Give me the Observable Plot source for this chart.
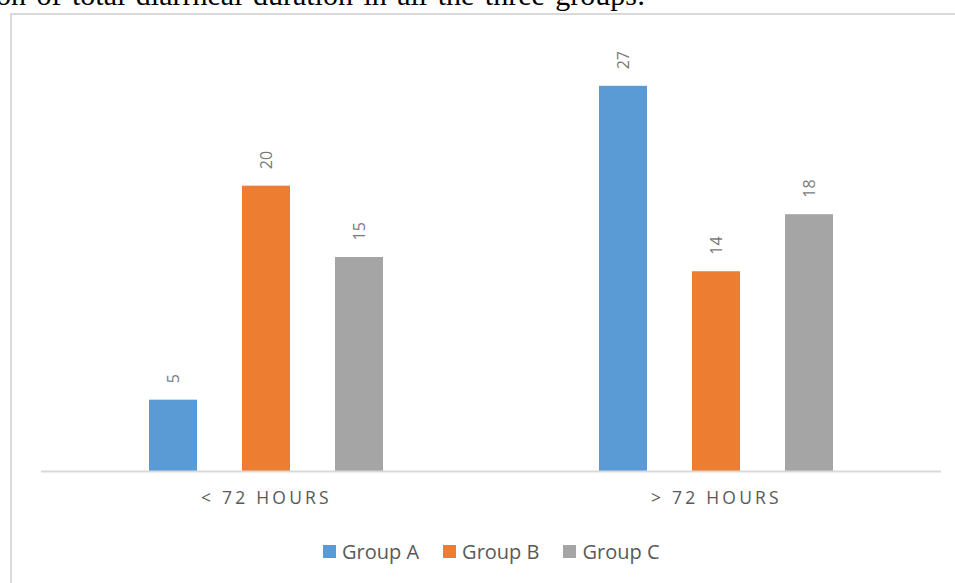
<!DOCTYPE html>
<html>
<head>
<meta charset="utf-8">
<script src="https://cdn.jsdelivr.net/npm/d3@7"></script>
<script src="https://cdn.jsdelivr.net/npm/@observablehq/plot@0.6"></script>
<style>
  html, body { margin: 0; padding: 0; background: #fff; width: 955px; height: 583px; overflow: hidden; position: relative; }
  #caption { position: absolute; left: -4px; top: -20px; line-height: 30px; font-family: "Liberation Serif", "Times New Roman", serif; font-size: 30px; word-spacing: 3px; color: #000; white-space: nowrap; }
  #frame { position: absolute; left: 10px; top: 13px; width: 980px; height: 620px; border: 2px solid #d9d9d9; box-sizing: border-box; }
  #chart { position: absolute; left: 0; top: 13px; }
  #chart svg g[aria-label="fx-axis tick label"] text { letter-spacing: 3.2px; }
  #legend { position: absolute; left: 323px; top: 538px; display: flex; gap: 24px; font-family: "Open Sans", Lato, sans-serif; font-size: 20px; color: #595959; }
  #legend .item { display: flex; align-items: center; gap: 6px; }
  #legend .sw { width: 13px; height: 13px; display: inline-block; }
</style>
</head>
<body>
<div id="caption">on of total diarrheal duration in all the three groups:</div>
<div id="frame"></div>
<div id="chart"></div>
<div id="legend"></div>
<script>
const categories = ["< 72 HOURS", "> 72 HOURS"];
const groups = ["Group A", "Group B", "Group C"];
const groupA = [5, 27];
const groupB = [20, 14];
const groupC = [15, 18];
const colors = ["#5b9bd5", "#ed7d31", "#a5a5a5"];

const series = [groupA, groupB, groupC];
const data = [];
categories.forEach((c, i) => {
  groups.forEach((g, j) => data.push({cat: c, group: g, value: series[j][i]}));
});

const chart = Plot.plot({
  width: 955,
  height: 512,
  marginLeft: 40,
  marginRight: 14,
  marginTop: 30,
  marginBottom: 54,
  style: {background: "transparent", fontFamily: "'Open Sans', Lato, sans-serif"},
  fx: {domain: categories, padding: 0, label: null},
  x: {domain: groups, paddingInner: 0.481, paddingOuter: 1.15, axis: null},
  y: {domain: [0, 30], axis: null},
  color: {domain: groups, range: colors},
  marks: [
    Plot.barY(data, {fx: "cat", x: "group", y: "value", fill: "group"}),
    Plot.ruleY([0], {stroke: "#d9d9d9", strokeWidth: 2}),
    Plot.text(data, {fx: "cat", x: "group", y: "value", text: d => String(d.value), rotate: -90, textAnchor: "start", lineAnchor: "middle", dy: -17, fontSize: 16, fill: "#7a7a7a"}),
    Plot.axisFx({anchor: "bottom", tickSize: 0, tickPadding: 20, fontSize: 17.5, color: "#595959", label: null})
  ]
});
document.getElementById("chart").appendChild(chart);

const legend = document.getElementById("legend");
groups.forEach((g, j) => {
  const item = document.createElement("span");
  item.className = "item";
  const sw = document.createElement("span");
  sw.className = "sw";
  sw.style.background = colors[j];
  const t = document.createElement("span");
  t.textContent = g;
  item.appendChild(sw);
  item.appendChild(t);
  legend.appendChild(item);
});
</script>
</body>
</html>
